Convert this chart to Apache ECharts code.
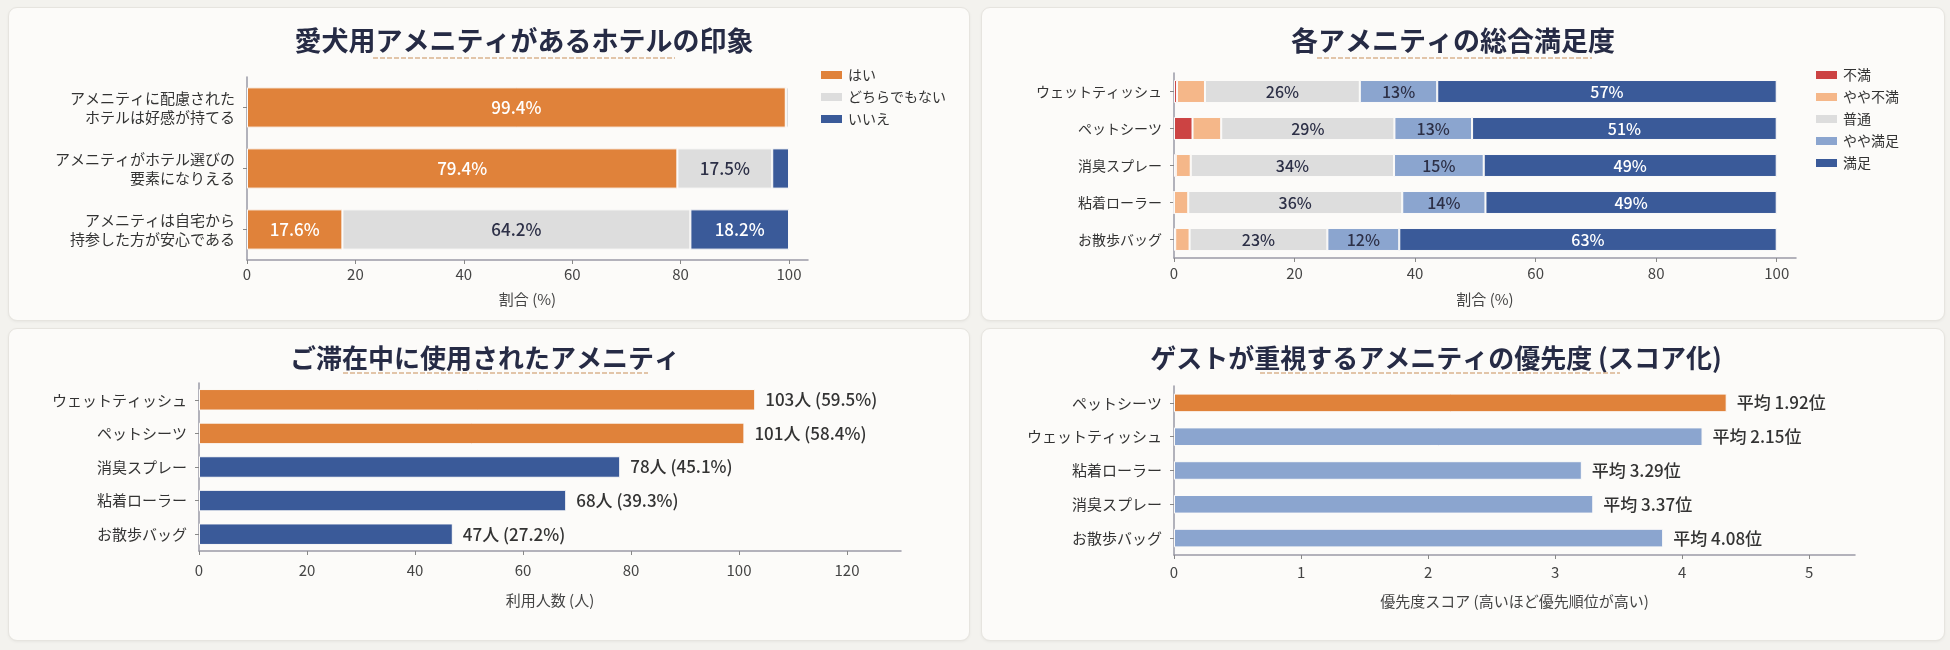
<!DOCTYPE html>
<html><head><meta charset="utf-8">
<script src="https://cdn.jsdelivr.net/npm/echarts@6/dist/echarts.min.js"></script>
<style>
html,body{margin:0;padding:0;background:#f3f2ee;width:1950px;height:650px;overflow:hidden;}
.card{position:absolute;background:#fcfbf9;border:1px solid #e6e4df;border-radius:9px;box-shadow:0 1px 3px rgba(0,0,0,0.05);box-sizing:border-box;}
</style></head><body>
<div id="c1" class="card" style="left:8px;top:7px;width:962px;height:314px"></div>
<div id="c2" class="card" style="left:981px;top:7px;width:964px;height:314px"></div>
<div id="c3" class="card" style="left:8px;top:328px;width:962px;height:313px"></div>
<div id="c4" class="card" style="left:981px;top:328px;width:964px;height:313px"></div>
<script>
// ---- Data ----
const impressionCats = ['アメニティに配慮された\nホテルは好感が持てる', 'アメニティがホテル選びの\n要素になりえる', 'アメニティは自宅から\n持参した方が安心である'];
const impressionYes = [99.4, 79.4, 17.6];
const impressionNeutral = [0.6, 17.5, 64.2];
const impressionNo = [0, 3.1, 18.2];
const impressionTicks = [0, 20, 40, 60, 80, 100];

const satCats = ['ウェットティッシュ', 'ペットシーツ', '消臭スプレー', '粘着ローラー', 'お散歩バッグ'];
const satDissatisfied = [0.5, 3.1, 0.3, 0.0, 0.2];
const satSomewhatDis = [4.7, 4.8, 2.5, 2.4, 2.4];
const satNeutral = [26, 29, 34, 36, 23];
const satSomewhatSat = [13, 13, 15, 14, 12];
const satSatisfied = [57, 51, 49, 49, 63];
const satTicks = [0, 20, 40, 60, 80, 100];

const usageCats = ['ウェットティッシュ', 'ペットシーツ', '消臭スプレー', '粘着ローラー', 'お散歩バッグ'];
const usageCounts = [103, 101, 78, 68, 47];
const usagePcts = [59.5, 58.4, 45.1, 39.3, 27.2];
const usageTicks = [0, 20, 40, 60, 80, 100, 120];

const priorityCats = ['ペットシーツ', 'ウェットティッシュ', '粘着ローラー', '消臭スプレー', 'お散歩バッグ'];
const priorityScores = [4.35, 4.16, 3.21, 3.30, 3.85];
const priorityRanks = [1.92, 2.15, 3.29, 3.37, 4.08];
const priorityTicks = [0, 1, 2, 3, 4, 5];

// ---- Styles ----
const FONT = '"Noto Sans CJK JP","Noto Sans",sans-serif';
const ORANGE = '#e0823a', GRAY = '#dddddd', NAVY = '#3a5a99', LIGHTBLUE = '#8ba5cf', RED = '#cc4343', LIGHTORANGE = '#f5b789';
const TITLE_COLOR = '#262b45', TEXT = '#333333', AXIS = '#9a9aa6';

function titleGraphics(text, cx, cy, size, ux1, ux2, uy) {
  return [
    {type: 'text', x: cx, y: cy, style: {text: text, font: 'bold ' + size + 'px ' + FONT, fill: TITLE_COLOR, textAlign: 'center', textVerticalAlign: 'middle'}},
    {type: 'line', shape: {x1: ux1, y1: uy, x2: ux2, y2: uy}, style: {stroke: '#d9b48e', lineWidth: 1.5, lineDash: [5, 2]}}
  ];
}
function valueAxis(max, ticks, name, margin, gap) {
  return {
    type: 'value', min: 0, max: max,
    name: name, nameLocation: 'middle', nameGap: gap,
    nameTextStyle: {fontFamily: FONT, fontSize: 15, color: '#444'},
    axisLine: {show: true, lineStyle: {color: AXIS, width: 1.5}},
    axisTick: {show: true, length: 4, customValues: ticks, lineStyle: {color: '#888'}},
    axisLabel: {customValues: ticks, fontFamily: FONT, fontSize: 15, color: '#444', margin: margin},
    splitLine: {show: false}
  };
}
function catAxis(cats, size, lh) {
  return {
    type: 'category', data: cats, inverse: true,
    axisLine: {show: true, lineStyle: {color: AXIS, width: 1.5}},
    axisTick: {show: true, length: 4, alignWithLabel: true, lineStyle: {color: '#888'}},
    axisLabel: {fontFamily: FONT, fontSize: size, color: TEXT, margin: 12, lineHeight: lh || 18, align: 'right'}
  };
}
function legendOpt(left, names) {
  return {orient: 'vertical', left: left, top: 55, itemWidth: 23, itemHeight: 10, itemGap: 8, icon: 'rect',
    textStyle: {fontFamily: FONT, fontSize: 14, color: TEXT}, data: names};
}

// ---- Chart 1 ----
(function () {
  const ch = echarts.init(document.getElementById('c1'), null, {renderer: 'canvas'});
  const names = ['はい', 'どちらでもない', 'いいえ'];
  const vals = [impressionYes, impressionNeutral, impressionNo];
  const colors = [ORANGE, GRAY, NAVY];
  const labelColors = ['#ffffff', '#2d3047', '#ffffff'];
  ch.setOption({
    animation: false,
    graphic: titleGraphics('愛犬用アメニティがあるホテルの印象', 515, 33, 27, 364, 666, 50),
    legend: legendOpt(805, names),
    grid: {left: 238, top: 69, width: 561, height: 183},
    xAxis: valueAxis(103.5, impressionTicks, '割合 (%)', 7, 32),
    yAxis: catAxis(impressionCats, 15, 19),
    series: names.map((n, i) => ({
      name: n, type: 'bar', stack: 'a', barCategoryGap: '34%',
      itemStyle: {color: colors[i], borderColor: '#fcfbf9', borderWidth: 1},
      label: {show: true, position: 'inside', fontFamily: FONT, fontSize: 17, fontWeight: 500, color: labelColors[i],
        formatter: p => p.value >= 8 ? p.value.toFixed(1) + '%' : ''},
      data: vals[i]
    }))
  });
})();

// ---- Chart 2 ----
(function () {
  const ch = echarts.init(document.getElementById('c2'), null, {renderer: 'canvas'});
  const names = ['不満', 'やや不満', '普通', 'やや満足', '満足'];
  const vals = [satDissatisfied, satSomewhatDis, satNeutral, satSomewhatSat, satSatisfied];
  const colors = [RED, LIGHTORANGE, GRAY, LIGHTBLUE, NAVY];
  const labelColors = [TEXT, TEXT, '#2d3047', '#2d3047', '#ffffff'];
  const rowSums = satCats.map((c, j) => vals.reduce((s, arr) => s + arr[j], 0));
  ch.setOption({
    animation: false,
    graphic: titleGraphics('各アメニティの総合満足度', 471, 33, 27, 335, 610, 50),
    legend: legendOpt(827, names),
    grid: {left: 192, top: 65, width: 622, height: 185},
    xAxis: valueAxis(103.2, satTicks, '割合 (%)', 8, 34),
    yAxis: catAxis(satCats, 14),
    series: names.map((n, i) => ({
      name: n, type: 'bar', stack: 'a', barCategoryGap: '38%',
      itemStyle: {color: colors[i], borderColor: '#fcfbf9', borderWidth: 1},
      label: {show: true, position: 'inside', fontFamily: FONT, fontSize: 16, fontWeight: 500, color: labelColors[i],
        formatter: p => p.data.raw >= 8 ? Math.round(p.data.raw) + '%' : ''},
      data: vals[i].map((v, j) => ({value: v / rowSums[j] * 100, raw: v}))
    }))
  });
})();

// ---- Chart 3 ----
(function () {
  const ch = echarts.init(document.getElementById('c3'), null, {renderer: 'canvas'});
  ch.setOption({
    animation: false,
    graphic: titleGraphics('ご滞在中に使用されたアメニティ', 476, 29, 26, 334, 639, 44),
    grid: {left: 190, top: 54, width: 702, height: 168},
    xAxis: valueAxis(130, usageTicks, '利用人数 (人)', 12, 42),
    yAxis: catAxis(usageCats, 15),
    series: [{
      type: 'bar', barCategoryGap: '36%',
      itemStyle: {color: p => p.dataIndex < 2 ? ORANGE : NAVY, borderColor: '#fcfbf9', borderWidth: 1},
      label: {show: true, position: 'right', distance: 10, fontFamily: FONT, fontSize: 17, fontWeight: 500, color: TEXT,
        formatter: p => usageCounts[p.dataIndex] + '人 (' + usagePcts[p.dataIndex].toFixed(1) + '%)'},
      data: usageCounts
    }]
  });
})();

// ---- Chart 4 ----
(function () {
  const ch = echarts.init(document.getElementById('c4'), null, {renderer: 'canvas'});
  ch.setOption({
    animation: false,
    graphic: titleGraphics('ゲストが重視するアメニティの優先度 (スコア化)', 454, 29, 26, 278, 638, 44),
    grid: {left: 192, top: 57, width: 681, height: 169},
    xAxis: valueAxis(5.36, priorityTicks, '優先度スコア (高いほど優先順位が高い)', 10, 39),
    yAxis: catAxis(priorityCats, 15),
    series: [{
      type: 'bar', barCategoryGap: '45%',
      itemStyle: {color: p => p.dataIndex === 0 ? ORANGE : LIGHTBLUE, borderColor: '#fcfbf9', borderWidth: 1},
      label: {show: true, position: 'right', distance: 10, fontFamily: FONT, fontSize: 17, fontWeight: 500, color: TEXT,
        formatter: p => '平均 ' + priorityRanks[p.dataIndex].toFixed(2) + '位'},
      data: priorityScores
    }]
  });
})();
</script>
</body></html>
